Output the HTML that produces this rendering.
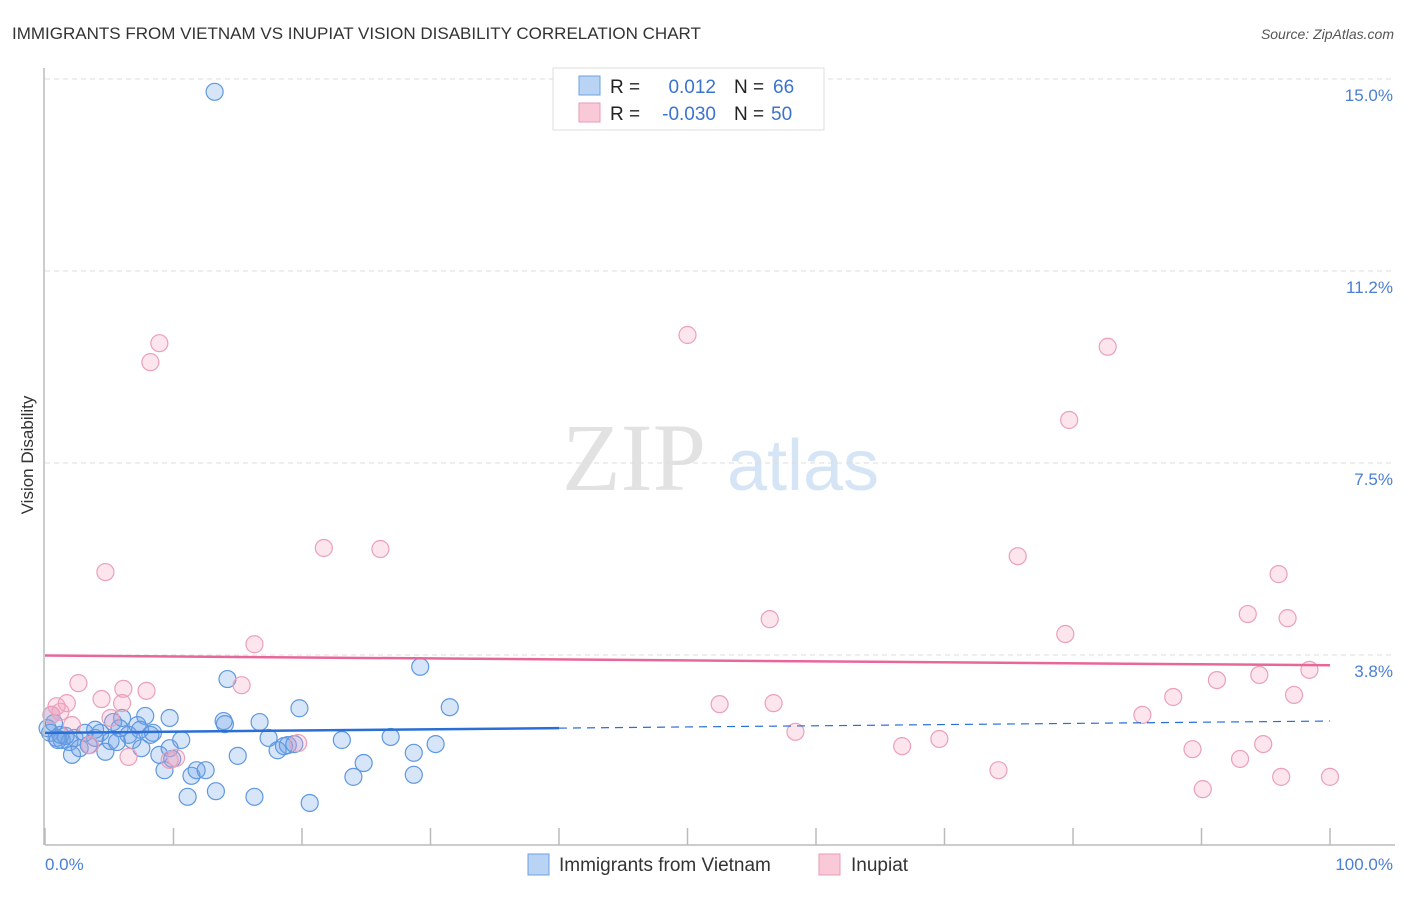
<!DOCTYPE html>
<html><head><meta charset="utf-8"><style>
body{margin:0;background:#fff;font-family:"Liberation Sans",sans-serif}
</style></head><body>
<svg id="chart" width="1406" height="892" xmlns="http://www.w3.org/2000/svg" font-family="Liberation Sans, sans-serif">
<text x="12" y="39" font-size="17" fill="#333">IMMIGRANTS FROM VIETNAM VS INUPIAT VISION DISABILITY CORRELATION CHART</text>
<text x="1394" y="39" font-size="14" fill="#555" font-style="italic" text-anchor="end">Source: ZipAtlas.com</text>
<text x="634" y="490" font-size="96" font-family="Liberation Serif, serif" fill="#e2e2e2" text-anchor="middle">ZIP</text>
<text x="803" y="490" font-size="72" fill="#d6e5f5" text-anchor="middle">atlas</text>
<text transform="translate(33,455) rotate(-90)" font-size="17" fill="#333" text-anchor="middle">Vision Disability</text>
<g id="grid"></g><g id="ticks"></g><g id="pts"></g><g id="trend"></g>
<line x1="45" y1="845" x2="1395" y2="845" stroke="#bbb" stroke-width="1.5"/>
<line x1="44" y1="68" x2="44" y2="845" stroke="#bbb" stroke-width="1.5"/>
<text x="45" y="870" font-size="17" fill="#4a7fd4">0.0%</text>
<text x="1393" y="870" font-size="17" fill="#4a7fd4" text-anchor="end">100.0%</text>
<g>
<rect x="553" y="68" width="271" height="62" fill="#fff" stroke="#ddd"/>
<rect x="579" y="76" width="21" height="19" fill="#b9d3f5" stroke="#6ea0e0"/>
<rect x="579" y="103" width="21" height="19" fill="#f9c9d8" stroke="#eb9ab6"/>
<text x="610" y="93" font-size="19" fill="#222">R =</text><text x="716" y="93" font-size="19" fill="#3b73d0" text-anchor="end">0.012</text>
<text x="734" y="93" font-size="19" fill="#222">N =</text><text x="773" y="93" font-size="19" fill="#3b73d0">66</text>
<text x="610" y="120" font-size="19" fill="#222">R =</text><text x="716" y="120" font-size="19" fill="#3b73d0" text-anchor="end">-0.030</text>
<text x="734" y="120" font-size="19" fill="#222">N =</text><text x="771" y="120" font-size="19" fill="#3b73d0">50</text>
</g>
<g>
<rect x="528" y="854" width="21" height="21" fill="#b9d3f5" stroke="#6ea0e0"/>
<text x="559" y="871" font-size="19" fill="#333">Immigrants from Vietnam</text>
<rect x="819" y="854" width="21" height="21" fill="#f9c9d8" stroke="#eb9ab6"/>
<text x="851" y="871" font-size="19" fill="#333">Inupiat</text>
</g>
</svg>
<script>
const yTicks=[3.8,7.5,11.2,15.0];
const yTickVals=[3.75,7.5,11.25,15.0];
const xTicks=[0,10,20,30,40,50,60,70,80,90,100];
const blueX=[13.2,29.2,14.2,31.5,19.8,0.5,0.7,0.4,0.9,1.3,1.9,2.3,3.1,2.1,3.4,3.9,4.3,4.7,5.1,5.3,5.6,6.0,6.5,6.8,7.2,7.5,7.8,8.2,8.4,8.9,9.7,9.7,9.9,9.3,10.6,11.4,11.8,12.5,11.1,13.3,13.9,14.0,15.0,16.3,16.7,17.4,18.1,18.6,18.9,19.4,20.6,23.1,24.0,24.8,26.9,28.7,28.7,30.4,0.2,1.2,2.7,3.9,5.8,7.4,1.0,1.6];
const blueY=[14.75,3.52,3.28,2.73,2.71,2.58,2.42,2.23,2.13,2.09,2.05,2.13,2.23,1.80,1.99,2.13,2.23,1.86,2.07,2.44,2.05,2.52,2.19,2.09,2.38,1.93,2.56,2.19,2.23,1.80,1.93,2.52,1.72,1.50,2.09,1.39,1.50,1.50,0.98,1.09,2.46,2.40,1.78,0.98,2.44,2.13,1.89,1.97,1.99,2.01,0.86,2.09,1.37,1.64,2.15,1.84,1.41,2.01,2.32,2.19,1.93,2.29,2.32,2.29,2.09,2.17];
const pinkX=[8.9,8.2,50.0,82.7,79.7,21.7,26.1,75.7,4.7,96.0,93.6,96.7,56.4,79.4,16.3,98.4,94.5,91.2,87.8,97.2,2.6,6.1,7.9,15.3,4.4,1.7,0.9,6.0,52.5,56.7,0.5,5.1,85.4,58.4,69.6,66.7,89.3,94.8,19.7,93.0,74.2,96.2,100,90.1,6.5,3.5,10.2,2.1,9.7,1.2];
const pinkY=[9.84,9.47,10.0,9.77,8.34,5.84,5.82,5.68,5.37,5.33,4.55,4.47,4.45,4.16,3.96,3.46,3.36,3.26,2.93,2.97,3.20,3.09,3.05,3.16,2.89,2.81,2.75,2.81,2.79,2.81,2.58,2.52,2.58,2.25,2.11,1.97,1.91,2.01,2.03,1.72,1.50,1.37,1.37,1.13,1.76,1.99,1.74,2.38,1.70,2.64];
const blueTrend=[2.23,2.46];
const pinkTrend=[3.74,3.55];
const NS="http://www.w3.org/2000/svg";
const X=v=>45+v*12.85, Y=v=>847-v*51.2;
function mk(tag,attrs,parent){const e=document.createElementNS(NS,tag);for(const k in attrs)e.setAttribute(k,attrs[k]);document.getElementById(parent).appendChild(e);return e;}
yTickVals.forEach((v,i)=>{
 const g=mk('line',{x1:45,x2:1395,y1:Y(v),y2:Y(v),stroke:'#ddd','stroke-dasharray':'5,4'},'grid');
 
 
 const t=mk('text',{x:1393,y:Y(v)+22,'font-size':17,fill:'#4a7fd4','text-anchor':'end'},'grid');
 t.textContent=yTicks[i].toFixed(1)+'%';
 
 
});
xTicks.forEach(v=>{
 const l=mk('line',{x1:X(v),x2:X(v),y1:828,y2:845,stroke:'#bbb','stroke-width':1.5},'ticks');
 
 
});
blueX.forEach((v,i)=>{
 const c=mk('circle',{cx:X(v),cy:Y(blueY[i]),r:8.5,fill:'rgba(110,160,230,0.28)',stroke:'#5f98e0','stroke-width':1.2},'pts');
 
 
});
pinkX.forEach((v,i)=>{
 const c=mk('circle',{cx:X(v),cy:Y(pinkY[i]),r:8.5,fill:'rgba(245,160,190,0.28)',stroke:'#eba0ba','stroke-width':1.2},'pts');
 
 
});
const bAt=x=>blueTrend[0]+(blueTrend[1]-blueTrend[0])*x/100;
let l1=mk('line',{x1:X(0),y1:Y(bAt(0)),x2:X(40),y2:Y(bAt(40)),stroke:'#2a6fd6','stroke-width':2.5},'trend');


let l2=mk('line',{x1:X(40),y1:Y(bAt(40)),x2:X(100),y2:Y(bAt(100)),stroke:'#2a6fd6','stroke-width':1.2,'stroke-dasharray':'8,6'},'trend');


let l3=mk('line',{x1:X(0),y1:Y(pinkTrend[0]),x2:X(100),y2:Y(pinkTrend[1]),stroke:'#e8679a','stroke-width':2.5},'trend');


</script>
</body></html>
